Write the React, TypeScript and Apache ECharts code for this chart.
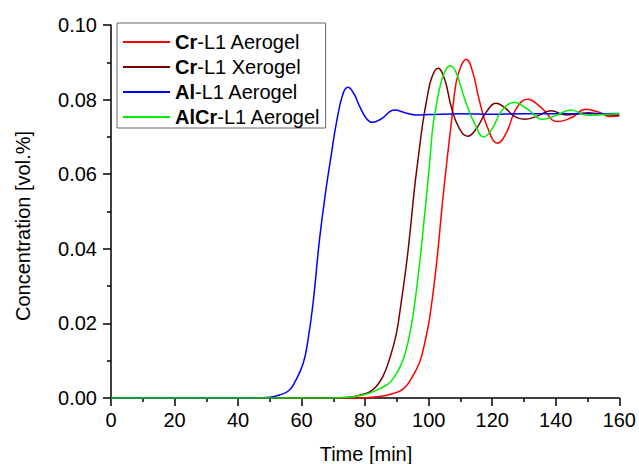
import React, { useEffect, useRef } from "react";
import * as echarts from "echarts";

const seriesNames = ["Cr-L1 Aerogel", "Cr-L1 Xerogel", "Al-L1 Aerogel", "AlCr-L1 Aerogel"];
const seriesColors = ["#ff0000", "#7a0000", "#0000ff", "#00ee00"];

const crAeroT = [0, 75, 80, 84.6, 88, 91.9, 94.5, 97.1, 98.8, 100.3, 102.4, 104.4, 105.8, 107.1, 108.6, 110.2, 111.8, 113.8, 115.9, 118.5, 121.7, 124.5, 127.5, 131.1, 135.5, 140.5, 145, 149.4, 154, 157, 160];
const crAeroV = [0, 0, 0.0001, 0.0004, 0.001, 0.0024, 0.0052, 0.0095, 0.015, 0.0215, 0.0355, 0.053, 0.064, 0.0736, 0.0844, 0.089, 0.0908, 0.0875, 0.0799, 0.0725, 0.0683, 0.0712, 0.0775, 0.0801, 0.0778, 0.0741, 0.0752, 0.0774, 0.0765, 0.0755, 0.0756];

const crXeroT = [0, 70, 75, 78, 81.4, 83.5, 85.6, 87.7, 89.8, 91.4, 92.9, 94.2, 95.5, 96.8, 98.1, 99.5, 101, 102.9, 105, 107.1, 109.5, 112.3, 115, 118, 121.2, 124, 127, 130.1, 134, 138.5, 143.2, 147, 150, 155, 160];
const crXeroV = [0, 0, 0.0002, 0.0007, 0.0016, 0.0031, 0.0058, 0.0105, 0.0172, 0.026, 0.0352, 0.045, 0.056, 0.065, 0.0735, 0.0805, 0.086, 0.0884, 0.0855, 0.0781, 0.0725, 0.0702, 0.0722, 0.0765, 0.079, 0.0778, 0.0755, 0.0747, 0.0755, 0.077, 0.0759, 0.0762, 0.0765, 0.076, 0.0758];

const alAeroT = [0, 45, 50, 53, 56, 58, 60.5, 62, 63.6, 65.7, 67.8, 69.4, 71, 73, 74.6, 76.5, 78.3, 80.5, 82.3, 85, 89.3, 92.5, 96, 100, 110, 120, 130, 140, 150, 160];
const alAeroV = [0, 0, 0.0002, 0.0008, 0.002, 0.0045, 0.0093, 0.0155, 0.0254, 0.043, 0.0567, 0.0656, 0.074, 0.0815, 0.0833, 0.0815, 0.0781, 0.0748, 0.0739, 0.0748, 0.0772, 0.0765, 0.0759, 0.076, 0.0762, 0.0761, 0.0762, 0.0762, 0.0762, 0.0763];

const alCrAeroT = [0, 70, 75, 78, 81.4, 84.5, 87.7, 90, 91.9, 93.5, 95, 96.3, 97.6, 98.7, 99.7, 100.5, 101.3, 102.5, 104, 105.5, 106.8, 108.5, 110, 111.8, 114.5, 117.3, 120, 123, 126.9, 131, 135.8, 140, 144.7, 150, 155, 160];
const alCrAeroV = [0, 0, 0.0002, 0.0006, 0.0013, 0.0025, 0.0041, 0.0068, 0.0102, 0.015, 0.0218, 0.03, 0.0397, 0.049, 0.0576, 0.065, 0.0727, 0.079, 0.085, 0.0882, 0.0891, 0.0875, 0.0838, 0.079, 0.0735, 0.07, 0.0722, 0.077, 0.0792, 0.0775, 0.0747, 0.0757, 0.0772, 0.0758, 0.076, 0.0762];

const xTicks = { min: 0, max: 160, interval: 20 };
const yTicks = { min: 0, max: 0.1, interval: 0.02 };

const FONT = "'Liberation Sans', Arial, sans-serif";
const FS = 20;

export default function App() {
  const ref = useRef<HTMLDivElement>(null);
  useEffect(() => {
    if (!ref.current) return;
    const chart = echarts.init(ref.current, undefined, { renderer: "svg" });
    const tList = [crAeroT, crXeroT, alAeroT, alCrAeroT];
    const vList = [crAeroV, crXeroV, alAeroV, alCrAeroV];
    const series = seriesNames.map((name, i) => ({
      name,
      type: "line",
      data: tList[i].map((t, j) => [t, vList[i][j]]),
      smooth: 0.45,
      symbol: "none",
      lineStyle: { color: seriesColors[i], width: 1.5 },
      itemStyle: { color: seriesColors[i] },
    }));
    const axisCommon = {
      axisLine: { show: true, lineStyle: { color: "#000", width: 1.5 } },
      axisTick: { show: true, inside: false, length: 8, lineStyle: { color: "#000", width: 1.5 } },
      minorTick: { show: true, splitNumber: 2, length: 4, lineStyle: { color: "#000", width: 1.5 } },
      splitLine: { show: false },
    };
    chart.setOption({
      animation: false,
      backgroundColor: "#fff",
      grid: { left: 111, right: 18, top: 25, bottom: 66, containLabel: false },
      xAxis: {
        type: "value",
        ...xTicks,
        ...axisCommon,
        axisLabel: { color: "#000", fontSize: FS, fontFamily: FONT, margin: 12 },
      },
      yAxis: {
        type: "value",
        ...yTicks,
        ...axisCommon,
        axisLabel: {
          color: "#000",
          fontSize: FS,
          fontFamily: FONT,
          margin: 14,
          formatter: (v: number) => v.toFixed(2),
        },
      },
      legend: {
        show: true,
        orient: "vertical",
        left: 117,
        top: 23,
        padding: [9, 5, 1, 6],
        itemGap: 5,
        itemWidth: 47,
        itemHeight: 2,
        icon: "rect",
        selectedMode: false,
        borderColor: "#666",
        borderWidth: 1,
        data: seriesNames,
        formatter: (name: string) => {
          const k = name.indexOf("-");
          return `{b|${name.slice(0, k)}}{n|${name.slice(k)}}`;
        },
        textStyle: {
          fontFamily: FONT,
          fontSize: FS,
          lineHeight: 20,
          color: "#000",
          rich: {
            b: { fontFamily: FONT, fontSize: FS, fontWeight: "bold", color: "#000", lineHeight: 20 },
            n: { fontFamily: FONT, fontSize: FS, color: "#000", lineHeight: 20 },
          },
        },
      },
      graphic: [
        {
          type: "text",
          x: 366,
          y: 454,
          style: { text: "Time [min]", font: `${FS}px ${FONT}`, fill: "#000", align: "center", verticalAlign: "middle" },
        },
        {
          type: "text",
          x: 23,
          y: 226,
          rotation: Math.PI / 2,
          style: { text: "Concentration [vol.%]", font: `${FS}px ${FONT}`, fill: "#000", align: "center", verticalAlign: "middle" },
        },
      ],
      series,
    });
    return () => chart.dispose();
  }, []);
  return <div ref={ref} style={{ width: 639, height: 464, position: "fixed", left: 0, top: 0 }} />;
}
